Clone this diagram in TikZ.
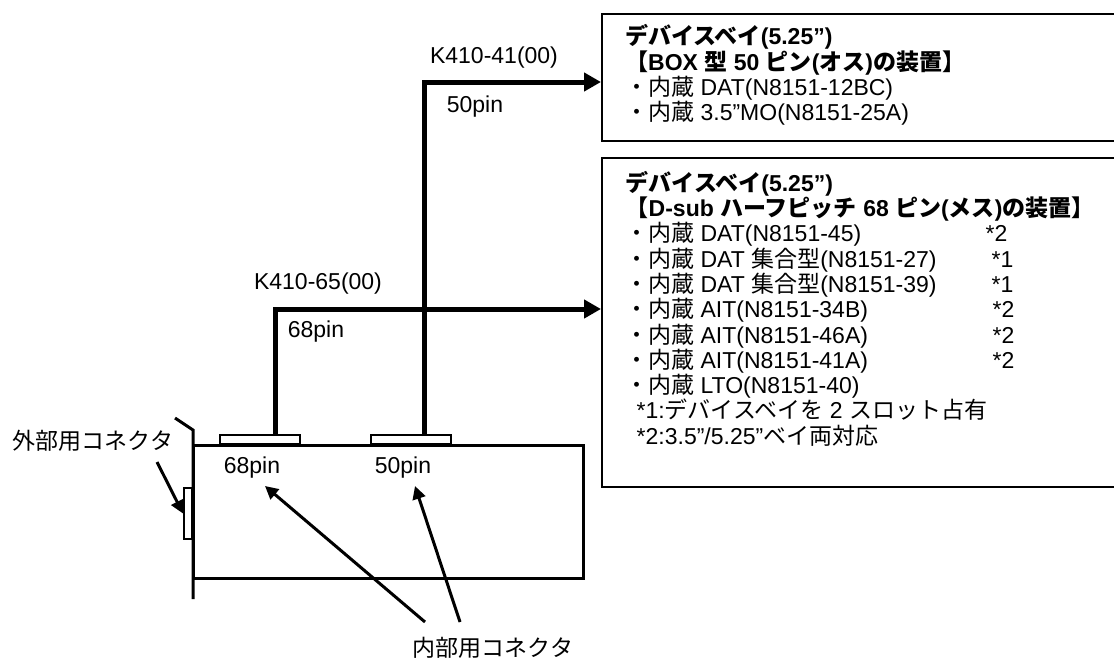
\documentclass[tikz,border=0pt]{standalone}
\usepackage{fontspec}
\setmainfont{Liberation Sans}
\newfontfamily\jpfont{Noto Sans CJK JP}
\usetikzlibrary{arrows.meta,matrix,positioning}
\newcommand{\jp}[1]{{\jpfont #1}}
\newcommand{\nz}{\jp{・内蔵} }
\tikzset{
  baybox/.style={draw,line width=2pt,rectangle,minimum width=600pt,inner sep=0pt},
  conbox/.style={draw,line width=2pt,rectangle,fill=white,inner sep=0pt},
  cable/.style={line width=5pt,-{Triangle[length=17pt,width=18pt]}},
  pointer/.style={line width=3pt,-{Triangle[length=13pt,width=13pt]}},
  plate/.style={line width=3pt},
  label/.style={font=\fontsize{23}{25}\selectfont,inner sep=0pt},
  baylist/.style={matrix of nodes,nodes in empty cells,ampersand replacement=\&,anchor=north west,inner sep=0pt,column sep=49pt,
    nodes={font=\fontsize{23}{25}\selectfont,inner sep=0pt,text height=17pt,text depth=8.3pt,anchor=base west}},
}
\begin{document}
\begin{tikzpicture}[x=1pt,y=-1pt]
  \useasboundingbox (0,0) rectangle (1114,659);
  \clip (0,0) rectangle (1114,659);
  % device bays
  \node[baybox,anchor=north west,minimum height=127pt] (bay50) at (601,13) {};
  \node[baybox,anchor=north west,minimum height=329pt] (bay68) at (601,157) {};
  \matrix(L) [baylist] at (625,27.5) {
    \bfseries\jp{デバイスベイ}(5.25”) \\
    \bfseries\jp{【}BOX \jp{型} 50 \jp{ピン}(\jp{オス})\jp{の装置】} \\
    \nz DAT(N8151-12BC) \\
    \nz 3.5”MO(N8151-25A) \\
  };
  \matrix(M) [baylist] at (625,174) {
    \rlap{\bfseries\jp{デバイスベイ}(5.25”)} \& \\
    \rlap{\bfseries\jp{【}D-sub \jp{ハーフピッチ} 68 \jp{ピン}(\jp{メス})\jp{の装置】}} \& \\
    \nz DAT(N8151-45) \& |[xshift=-6pt]| *2 \\
    \nz DAT \jp{集合型}(N8151-27) \& *1 \\
    \nz DAT \jp{集合型}(N8151-39) \& *1 \\
    \nz AIT(N8151-34B) \& |[xshift=1pt]| *2 \\
    \nz AIT(N8151-46A) \& |[xshift=1pt]| *2 \\
    \nz AIT(N8151-41A) \& |[xshift=1pt]| *2 \\
    \nz LTO(N8151-40) \& \\
    \rlap{\hspace{11pt}*1:\jp{デバイスベイを} 2 \jp{スロット占有}} \& \\
    \rlap{\hspace{11pt}*2:3.5”/5.25”\jp{ベイ両対応}} \& \\
  };
  % board with its bracket
  \draw[plate] (175,418) -- (193,430) -- (193,599);
  \draw[plate] (193,445) rectangle (583.5,578);
  \node[conbox,minimum width=80pt,minimum height=9pt] (con68) at (260,439.5) {};
  \node[conbox,minimum width=80pt,minimum height=9pt] (con50) at (411,439.5) {};
  \node[conbox,minimum width=8pt,minimum height=51pt] (conext) at (188,513.5) {};
  % cables
  \coordinate (out68) at (275,436);
  \coordinate (out50) at (424,436);
  \draw[cable] (out68) |- (bay68.west |- 0,309);
  \draw[cable] (out50) |- (bay50.west |- 0,82);
  % labels
  \node[label] (k50) at (494,58) {K410-41(00)};
  \node[label] (p50) at (475,107) {50pin};
  \node[label] (k68) at (318,284) {K410-65(00)};
  \node[label] (p68) at (316,332) {68pin};
  \node[label] (int68) at (252,468) {68pin};
  \node[label] (int50) at (403,468) {50pin};
  \node[label] (ext) at (93,441) {\jp{外部用コネクタ}};
  \node[label] (int) at (493,647.5) {\jp{内部用コネクタ}};
  % pointers
  \coordinate (from68) at (425,622);
  \coordinate (from50) at (460,622);
  \coordinate (fromext) at (157,462);
  \draw[pointer] (from68) -- (265,486);
  \draw[pointer] (from50) -- (415,486);
  \draw[pointer] (fromext) -- (conext.west);
\end{tikzpicture}
\end{document}
